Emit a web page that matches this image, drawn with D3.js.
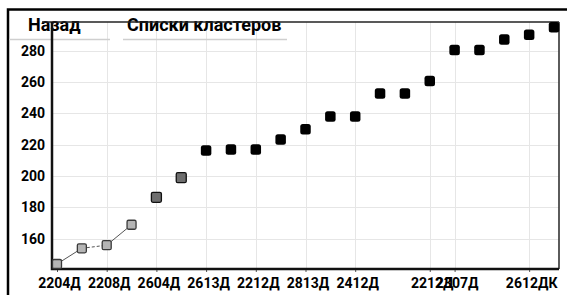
<!DOCTYPE html>
<html>
<head>
<meta charset="utf-8">
<script src="https://cdn.jsdelivr.net/npm/d3@7"></script>
<style>
  html, body { margin: 0; padding: 0; background: #fff; }
  svg { display: block; }
</style>
</head>
<body>
<svg id="chart"></svg>
<script>
// values, one per point (index 0..20)
const values = [144, 154, 156, 169, 186.5, 199, 216.3, 217, 217, 223.3, 229.8,
  238, 238, 252.7, 252.7, 260.6, 280.3, 280.3, 287, 290, 294.8];
// 0 = light linked points, 1 = gray, 2 = black
const groups = [0, 0, 0, 0, 1, 1, 2, 2, 2, 2, 2, 2, 2, 2, 2, 2, 2, 2, 2, 2, 2];
// segments between linked points (dashed or not)
const linkDash = [false, true, false];

const tickIdx = [0, 2, 4, 6, 8, 10, 12, 15, 16, 19];
const tickLabels = ['2204Д', '2208Д', '2604Д', '2613Д', '2212Д', '2813Д', '2412Д', '2212Д', '2307Д', '2612ДК'];
const yTicks = [160, 180, 200, 220, 240, 260, 280];

const tabs = ['Назад', 'Списки кластеров'];

const width = 567;
const height = 295;
const plot = { left: 52, right: 559, top: 22, bottom: 269 };
const font = 'Roboto, "Liberation Sans", Arial, sans-serif';

const svg = d3.select('#chart')
  .attr('width', width)
  .attr('height', height)
  .attr('viewBox', `0 0 ${width} ${height}`)
  .style('font-family', font);

const x = d3.scaleLinear().domain([0, values.length - 1]).range([57, 554]);
const y = d3.scaleLinear().domain([144, 295]).range([264, 27]);

// outer frame (only left and top visible)
svg.append('path')
  .attr('d', `M8,${height} V9.5 H${width}`)
  .attr('fill', 'none')
  .attr('stroke', '#000')
  .attr('stroke-width', 2.5);

// grid
const grid = svg.append('g').attr('stroke', '#e6e6e6').attr('stroke-width', 1);
grid.selectAll('line.h')
  .data(yTicks)
  .join('line')
  .attr('x1', plot.left).attr('x2', plot.right)
  .attr('y1', d => Math.round(y(d)) + 0.5).attr('y2', d => Math.round(y(d)) + 0.5);
grid.selectAll('line.v')
  .data(tickIdx.slice(1))
  .join('line')
  .attr('x1', d => Math.round(x(d)) + 0.5).attr('x2', d => Math.round(x(d)) + 0.5)
  .attr('y1', plot.top).attr('y2', plot.bottom);

// tab header over the chart
svg.append('g')
  .attr('stroke', '#cfcfcf')
  .attr('stroke-width', 1.5)
  .selectAll('line')
  .data([[9, 110], [123, 287]])
  .join('line')
  .attr('x1', d => d[0]).attr('x2', d => d[1])
  .attr('y1', 39.5).attr('y2', 39.5);

svg.append('g')
  .selectAll('text')
  .data(tabs)
  .join('text')
  .attr('x', (d, i) => [28, 127][i])
  .attr('y', 31)
  .attr('font-size', 18)
  .attr('font-weight', 'bold')
  .attr('fill', '#000')
  .text(d => d);

// plot border
svg.append('line')
  .attr('x1', 42).attr('x2', plot.right)
  .attr('y1', plot.top).attr('y2', plot.top)
  .attr('stroke', '#222').attr('stroke-width', 1.6);
svg.append('line')
  .attr('x1', plot.right).attr('x2', plot.right)
  .attr('y1', plot.top).attr('y2', plot.bottom)
  .attr('stroke', '#333').attr('stroke-width', 1.6);

// axes
const yAxis = svg.append('g')
  .attr('transform', `translate(${plot.left},0)`)
  .call(d3.axisLeft(y).tickValues(yTicks).tickSize(0).tickPadding(7));
yAxis.select('.domain').remove();
yAxis.selectAll('text')
  .attr('font-size', 14)
  .attr('font-weight', 'bold')
  .attr('font-family', font)
  .attr('fill', '#000');

const xAxis = svg.append('g')
  .attr('transform', `translate(0,${plot.bottom})`)
  .call(d3.axisBottom(x).tickValues(tickIdx).tickFormat((d, i) => tickLabels[i]).tickSize(3).tickPadding(6));
xAxis.select('.domain').remove();
xAxis.selectAll('line').attr('stroke', '#555');
xAxis.selectAll('text')
  .attr('dx', 2)
  .attr('font-size', 14)
  .attr('font-weight', 'bold')
  .attr('font-family', font)
  .attr('fill', '#000');

svg.append('path')
  .attr('d', `M${plot.left},${plot.top} V${plot.bottom} H${plot.right}`)
  .attr('fill', 'none')
  .attr('stroke', '#111')
  .attr('stroke-width', 2.5);

// links between the first light points
const light = values.map((v, i) => ({ i, v, g: groups[i] })).filter(d => d.g === 0);
svg.append('g')
  .selectAll('line')
  .data(d3.pairs(light))
  .join('line')
  .attr('x1', d => x(d[0].i)).attr('y1', d => y(d[0].v))
  .attr('x2', d => x(d[1].i)).attr('y2', d => y(d[1].v))
  .attr('stroke', '#555')
  .attr('stroke-width', 1)
  .attr('stroke-dasharray', (d, i) => linkDash[i] ? '3,2' : null);

// points
const fills = ['#b5b5b5', '#6e6e6e', '#000'];
const strokes = ['#3a3a3a', '#111', '#000'];
const sizes = [9, 10, 10.5];
svg.append('g')
  .selectAll('rect')
  .data(values.map((v, i) => ({ i, v, g: groups[i] })))
  .join('rect')
  .attr('x', d => x(d.i) - sizes[d.g] / 2)
  .attr('y', d => y(d.v) - sizes[d.g] / 2)
  .attr('width', d => sizes[d.g])
  .attr('height', d => sizes[d.g])
  .attr('rx', d => d.g === 2 ? 2.5 : 1.5)
  .attr('fill', d => fills[d.g])
  .attr('stroke', d => strokes[d.g])
  .attr('stroke-width', d => d.g === 2 ? 0 : 1.3);
</script>
</body>
</html>
